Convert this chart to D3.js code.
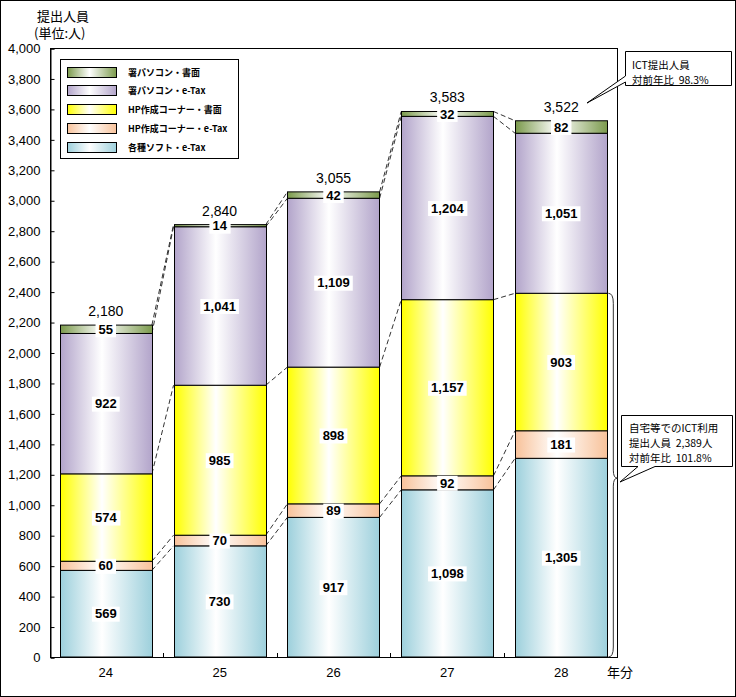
<!DOCTYPE html>
<html><head><meta charset="utf-8">
<script src="https://cdn.jsdelivr.net/npm/d3@7"></script>
<style>
body{margin:0;background:#fff;}
svg{display:block;font-family:"Liberation Sans","Noto Sans CJK JP",sans-serif;}
</style></head>
<body><svg id="c" width="736" height="697"></svg>
<script>
const years = ["24","25","26","27","28"];
const seriesNames = ["各種ソフト・e-Tax","HP作成コーナー・e-Tax","HP作成コーナー・書面","署パソコン・e-Tax","署パソコン・書面"];
const softETax = [569,730,917,1098,1305];
const hpETax = [60,70,89,92,181];
const hpPaper = [574,985,898,1157,903];
const pcETax = [922,1041,1109,1204,1051];
const pcPaper = [55,14,42,32,82];
const seriesColors = ["#9dd0dc","#f8c29a","#ffff00","#b2a4ca","#7b9a4c"];
const yTickValues = d3.range(0,4001,200);
const callout1 = ["ICT提出人員","対前年比  98.3%"];
const callout2 = ["自宅等でのICT利用","提出人員  2,389人","対前年比  101.8%"];

const svg = d3.select("#c");
const W=736,H=697;
svg.append("rect").attr("x",0.5).attr("y",0.5).attr("width",W-1).attr("height",H-1).attr("fill","#fff").attr("stroke","#000");

const rows = years.map((y,i)=>{const o={year:y};
  [softETax,hpETax,hpPaper,pcETax,pcPaper].forEach((a,k)=>o[seriesNames[k]]=a[i]);return o;});
const stack = d3.stack().keys(seriesNames)(rows);

const x = d3.scaleBand().domain(years).range([50,617]).paddingInner(0.19).paddingOuter(0.085);
const y = d3.scaleLinear().domain([0,4000]).range([657,48]);
const bw = x.bandwidth();

const defs = svg.append("defs");
seriesColors.forEach((c,i)=>{
  const g = defs.append("linearGradient").attr("id","g"+i).attr("x1","0").attr("x2","1").attr("y1","0").attr("y2","0");
  g.append("stop").attr("offset","0%").attr("stop-color",c);
  g.append("stop").attr("offset","45%").attr("stop-color","#fff");
  g.append("stop").attr("offset","100%").attr("stop-color",c);
});

svg.append("rect").attr("x",50.5).attr("y",48.5).attr("width",617-50).attr("height",657-48).attr("fill","none").attr("stroke","#000");

const yAxis = d3.axisLeft(y).tickValues(yTickValues).tickFormat(d3.format(",")).tickSize(-4).tickPadding(10);
const ga = svg.append("g").attr("transform","translate(50.5,0.5)").call(yAxis);
ga.select(".domain").attr("stroke","#000");
ga.selectAll(".tick line").attr("stroke","#000");
ga.selectAll(".tick text").attr("font-size",13).attr("fill","#000").attr("font-family","Liberation Sans, sans-serif");

const xb = years.slice(1).map(yv=>x(yv)-x.step()*x.paddingInner()/2);
svg.selectAll(".xt").data(xb).enter().append("line").attr("x1",d=>Math.round(d)+0.5).attr("x2",d=>Math.round(d)+0.5).attr("y1",657).attr("y2",653).attr("stroke","#000");
svg.selectAll(".xl").data(years).enter().append("text").attr("x",d=>x(d)+bw/2).attr("y",677).attr("text-anchor","middle").attr("font-size",13).text(d=>d);
svg.append("text").attr("x",607).attr("y",677).attr("font-size",13).attr("font-family","Noto Sans CJK JP").text("年分");

const conn = svg.append("g");
stack.forEach(s=>{
  for(let i=0;i<years.length-1;i++){
    conn.append("line").attr("x1",x(years[i])+bw).attr("y1",y(s[i][1])).attr("x2",x(years[i+1])).attr("y2",y(s[i+1][1]))
      .attr("stroke","#333").attr("stroke-dasharray","5,3").attr("stroke-width",1);
  }
});

stack.forEach((s,k)=>{
  svg.append("g").selectAll("rect").data(s).enter().append("rect")
    .attr("x",d=>Math.round(x(d.data.year))+0.5).attr("width",Math.round(bw))
    .attr("y",d=>y(d[1])).attr("height",d=>y(d[0])-y(d[1]))
    .attr("fill","url(#g"+k+")").attr("stroke","#000").attr("stroke-width",1);
});

const lg = svg.append("g");
stack.forEach(s=>{
  s.forEach(d=>{
    const v=d[1]-d[0];
    const cx=x(d.data.year)+bw/2, cy=(y(d[0])+y(d[1]))/2;
    const g=lg.append("g");
    const t=g.append("text").attr("x",cx).attr("y",cy).attr("dy","0.36em").attr("text-anchor","middle")
      .attr("font-size",13).attr("font-weight","bold").attr("font-family","Liberation Sans, sans-serif").text(d3.format(",")(v));
    const b=t.node().getBBox();
    g.insert("rect","text").attr("x",b.x-3).attr("y",cy-7).attr("width",b.width+6).attr("height",15).attr("fill","#fff");
  });
});

const last = stack[stack.length-1];
svg.selectAll(".tot").data(last).enter().append("text").attr("x",d=>x(d.data.year)+bw/2).attr("y",d=>y(d[1])-9)
  .attr("text-anchor","middle").attr("font-size",14).text(d=>d3.format(",")(d[1]));

const L = svg.append("g");
L.append("rect").attr("x",60.5).attr("y",59.5).attr("width",178).attr("height",99).attr("fill","#fff").attr("stroke","#000");
const legOrder = seriesNames.map((n,i)=>i).reverse();
const legY=[67,85,104,123,142];
legOrder.forEach((k,j)=>{
  L.append("rect").attr("x",67.5).attr("y",legY[j]+0.5).attr("width",49).attr("height",10).attr("fill","url(#g"+k+")").attr("stroke","#000");
  L.append("text").attr("x",128).attr("y",legY[j]+9).attr("font-size",9).attr("font-weight","bold").attr("font-family","Noto Sans CJK JP").text(seriesNames[k]);
});

svg.append("text").attr("x",37).attr("y",21).attr("font-size",13).attr("font-family","Noto Sans CJK JP").text("提出人員");
svg.append("text").attr("x",34).attr("y",38).attr("font-size",13).attr("font-family","Noto Sans CJK JP").text("(単位:人)");

const bx = x("28")+bw;
const topY = y(stack[2][4][1]), botY = y(0);
const midY = (topY+botY)/2+3;
svg.append("path").attr("d",`M${bx+1},${topY} Q${bx+6},${topY} ${bx+6},${topY+10} L${bx+6},${midY-8} Q${bx+6},${midY} ${bx+10},${midY} Q${bx+6},${midY} ${bx+6},${midY+8} L${bx+6},${botY-10} Q${bx+6},${botY} ${bx+1},${botY}`)
  .attr("fill","none").attr("stroke","#333").attr("stroke-width",1);

const c1 = svg.append("g");
c1.append("path").attr("d","M625.5,51.5 H731.5 V85.5 H625.5 V82 L587,103 L625.5,76 Z").attr("fill","#fff").attr("stroke","#000");
callout1.forEach((t,i)=>c1.append("text").attr("x",632).attr("y",69+i*15).attr("font-size",10.5).attr("font-family","Noto Sans CJK JP").attr("xml:space","preserve").text(t));

const c2 = svg.append("g");
c2.append("path").attr("d","M621.5,415.5 H732.5 V466.5 H655 L620,482 L638,466.5 H621.5 Z").attr("fill","#fff").attr("stroke","#000");
callout2.forEach((t,i)=>c2.append("text").attr("x",629).attr("y",432+i*15).attr("font-size",10.5).attr("font-family","Noto Sans CJK JP").attr("xml:space","preserve").text(t));
</script></body></html>
